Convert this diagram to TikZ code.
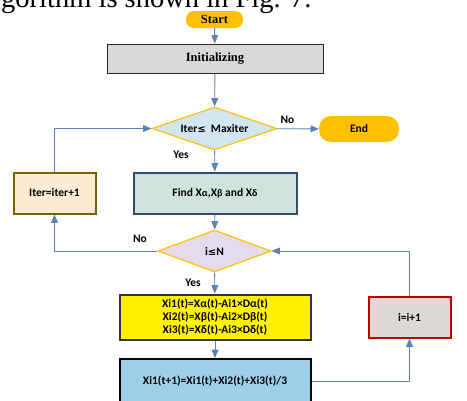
\documentclass[tikz,border=0pt]{standalone}
\usepackage{fontspec}
\setmainfont{Liberation Serif}
\newfontfamily\calfont{Carlito}
\newfontfamily\symfont{DejaVu Sans}
\usepackage{xcolor}
\usetikzlibrary{shapes, arrows, shapes.geometric, positioning, calc}

\definecolor{startorange}{HTML}{FFC000}
\definecolor{initgray}{HTML}{D9D9D9}
\definecolor{condblue}{HTML}{D2E6F2}
\definecolor{findgreen}{HTML}{D0E3DA}
\definecolor{findborder}{HTML}{2F4B6E}
\definecolor{iterfill}{HTML}{FDEBD2}
\definecolor{iterborder}{HTML}{7F5F00}
\definecolor{condlav}{HTML}{E4DCEC}
\definecolor{yelborder}{HTML}{3A2F45}
\definecolor{updblue}{HTML}{9DD0E8}
\definecolor{incfill}{HTML}{DFD9D6}
\definecolor{incborder}{HTML}{C00000}
\definecolor{linkblue}{HTML}{5B82B5}

\tikzset{
  term/.style={rounded corners=8pt, fill=startorange, inner sep=0pt},
  procbox/.style={draw, line width=2pt, inner sep=0pt, align=center},
  cond/.style={diamond, draw=startorange, line width=1.2pt, inner sep=0pt},
  link/.style={draw=linkblue, line width=0.9pt, -triangle 45},
  flowtxt/.style={font=\calfont\bfseries\fontsize{11.5}{13}\selectfont},
  yntxt/.style={font=\calfont\bfseries\fontsize{11.5}{13}\selectfont}
}

\begin{document}
\begin{tikzpicture}[x=1pt,y=-1pt]
      \useasboundingbox (0,0) rectangle (467,400);
      \clip (0,0) rectangle (467,400);

      % text of the page above the figure
      \node[anchor=base west, inner sep=0pt, font=\fontsize{28.5}{30}\selectfont] (pagetxt) at (1,7.5) {gorithm is shown in Fig. 7.};

      \node[term, minimum width=57pt, minimum height=17pt, font=\bfseries\fontsize{12.5}{14}\selectfont] (start) at (214.5,19.5) {Start};
      \node[procbox, draw=black!85, line width=1pt, fill=initgray, minimum width=216pt, minimum height=29pt, font=\bfseries\fontsize{12.5}{14}\selectfont] (init) at (215,58.5) {Initializing};

      \node[cond, aspect=2.9, fill=condblue, minimum width=125pt, minimum height=43pt, flowtxt] (iterok) at (214.5,128.5) {Iter{\symfont\fontsize{10}{12}\selectfont≤}\ \ Maxiter};
      \node[term, rounded corners=12pt, minimum width=80pt, minimum height=26pt, flowtxt] (finish) at (359,129) {End};

      \node[procbox, draw=iterborder, fill=iterfill, minimum width=82pt, minimum height=41pt, flowtxt] (iterinc) at (54.5,193) {Iter=iter+1};
      \node[procbox, draw=findborder, fill=findgreen, minimum width=163pt, minimum height=41pt, flowtxt] (find) at (215,193) {Find X{\fontsize{10}{12}\selectfont α},X{\fontsize{10}{12}\selectfont β} and X{\fontsize{10}{12}\selectfont δ}};

      \node[cond, aspect=2.7, fill=condlav, minimum width=113pt, minimum height=42pt, flowtxt] (iok) at (214.5,251) {i{\symfont\fontsize{10}{12}\selectfont≤}N};

      \node[procbox, draw=yelborder, fill=yellow, minimum width=191pt, minimum height=45pt, flowtxt, align=center] (move) at (215,317)
        {Xi1(t)=Xα(t)-Ai1×Dα(t)\\Xi2(t)=Xβ(t)-Ai2×Dβ(t)\\Xi3(t)=Xδ(t)-Ai3×Dδ(t)};
      \node[procbox, draw=black, fill=updblue, minimum width=191pt, minimum height=44pt, flowtxt] (update) at (215,381) {Xi1(t+1)=Xi1(t)+Xi2(t)+Xi3(t)/3};

      \node[procbox, draw=incborder, fill=incfill, minimum width=82pt, minimum height=41pt, flowtxt] (iinc) at (409.5,317) {i=i+1};

      % connectors
      \draw[link] (start) -- (init);
      \draw[link] (init) -- (iterok);
      \draw[link] (iterok) -- node[pos=0.25, above=1pt, yntxt] (noa) {No} (finish);
      \draw[link] (iterok) -- (find);
      \node[yntxt] (yesa) at (181,155) {Yes};
      \draw[link] (iterinc.north) |- (iterok.west);
      \draw[link] (find) -- (iok);
      \draw[link] (iok.west) -| (iterinc.south);
      \node[yntxt] (nob) at (140,239) {No};
      \draw[link] (iok) -- (move);
      \node[yntxt] (yesb) at (193,283) {Yes};
      \draw[link] (move) -- (update);
      \draw[link] (update.east) -| (iinc.south);
      \draw[link] (iinc.north) |- (iok.east);
\end{tikzpicture}
\end{document}
